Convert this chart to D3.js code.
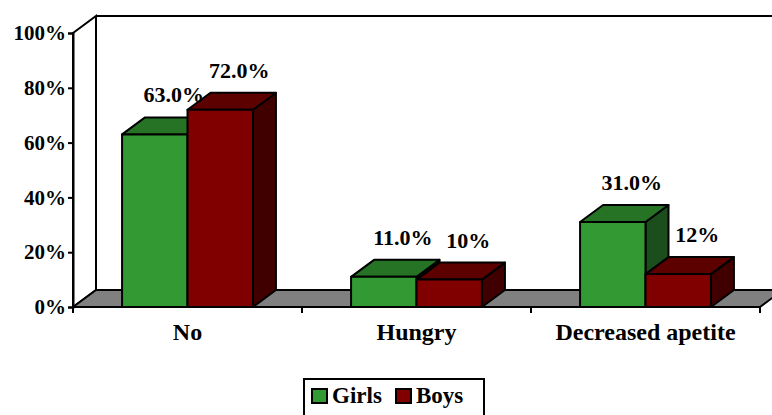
<!DOCTYPE html>
<html>
<head>
<meta charset="utf-8">
<script src="https://cdn.jsdelivr.net/npm/d3@7"></script>
<style>
  body { margin: 0; background: #fff; }
</style>
</head>
<body>
<div id="chart"></div>
<script>
const categories = ['No', 'Hungry', 'Decreased apetite']
const seriesNames = ['Girls', 'Boys']
const girls = [63, 11, 31]
const boys = [72, 10, 12]
const valueLabels = [['63.0%', '72.0%'], ['11.0%', '10%'], ['31.0%', '12%']]
const yTicks = [0, 20, 40, 60, 80, 100]

const colors = {
  Girls: { front: '#339933', top: '#267326', side: '#1c4d1c' },
  Boys: { front: '#800000', top: '#5c0000', side: '#400000' }
}

const FONT = '"Times New Roman", Times, "Liberation Serif", "DejaVu Serif", serif'
const width = 772, height = 415
const depth = { dx: 23, dy: -17 }

const svg = d3.select('#chart').append('svg')
  .attr('width', width)
  .attr('height', height)
  .style('font-family', FONT)
  .style('font-weight', 'bold')

const x0 = d3.scaleBand()
  .domain(categories)
  .range([73, 760])
  .padding(0)

const x1 = d3.scaleBand()
  .domain(seriesNames)
  .range([0, x0.bandwidth()])
  .paddingInner(0)
  .paddingOuter(0.75)

const y = d3.scaleLinear()
  .domain([0, 100])
  .range([307, 33])

const y0 = y(0), yTop = y(100)
const xL = x0.range()[0], xR = x0.range()[1]

const line = d3.line()

// back wall
svg.append('path')
  .attr('d', line([[xL + depth.dx, yTop + depth.dy], [width + 10, yTop + depth.dy], [width + 10, y0 + depth.dy], [xL + depth.dx, y0 + depth.dy]]))
  .attr('fill', '#fff')
  .attr('stroke', '#000')
  .attr('stroke-width', 2)

// left side wall
svg.append('path')
  .attr('d', line([[xL, yTop], [xL + depth.dx, yTop + depth.dy], [xL + depth.dx, y0 + depth.dy], [xL, y0]]) + 'Z')
  .attr('fill', '#fff')
  .attr('stroke', '#000')
  .attr('stroke-width', 2)

// floor
svg.append('path')
  .attr('d', line([[xL, y0], [xR, y0], [xR + depth.dx, y0 + depth.dy], [xL + depth.dx, y0 + depth.dy]]) + 'Z')
  .attr('fill', '#808080')
  .attr('stroke', '#000')
  .attr('stroke-width', 2)
  .attr('stroke-linejoin', 'round')

// y axis
const yAxis = svg.append('g')
  .attr('transform', `translate(${xL},0)`)
  .call(d3.axisLeft(y).tickValues(yTicks).tickFormat(d => d + '%').tickSize(5).tickPadding(2))
yAxis.attr('font-family', null).attr('font-size', 21)
yAxis.select('.domain').attr('stroke-width', 2)
yAxis.selectAll('.tick line').attr('stroke-width', 2)
yAxis.selectAll('.tick text').attr('fill', '#000')

// x axis ticks at category boundaries
const boundaries = categories.map(c => x0(c)).concat([xR])
svg.append('g').selectAll('line')
  .data(boundaries)
  .join('line')
  .attr('x1', d => d).attr('x2', d => d)
  .attr('y1', y0).attr('y2', y0 + 6)
  .attr('stroke', '#000')
  .attr('stroke-width', 2)

svg.append('line')
  .attr('x1', xL).attr('x2', xR)
  .attr('y1', y0).attr('y2', y0)
  .attr('stroke', '#000')
  .attr('stroke-width', 2)

// bars
const bars = []
categories.forEach((c, i) => {
  seriesNames.forEach((s, j) => {
    bars.push({ cat: c, series: s, value: s === 'Girls' ? girls[i] : boys[i], label: valueLabels[i][j] })
  })
})

const bar = svg.append('g').selectAll('g')
  .data(bars)
  .join('g')

bar.each(function (d) {
  const g = d3.select(this)
  const xa = x0(d.cat) + x1(d.series)
  const xb = xa + x1.bandwidth()
  const yt = y(d.value)
  const c = colors[d.series]
  const draw = (pts, fill) => g.append('path')
    .attr('d', line(pts) + 'Z')
    .attr('fill', fill)
    .attr('stroke', '#000')
    .attr('stroke-width', 2)
    .attr('stroke-linejoin', 'round')
  draw([[xb, yt], [xb + depth.dx, yt + depth.dy], [xb + depth.dx, y0 + depth.dy], [xb, y0]], c.side)
  draw([[xa, yt], [xa + depth.dx, yt + depth.dy], [xb + depth.dx, yt + depth.dy], [xb, yt]], c.top)
  draw([[xa, yt], [xb, yt], [xb, y0], [xa, y0]], c.front)
})

// value labels
svg.append('g').selectAll('text')
  .data(bars)
  .join('text')
  .attr('x', d => x0(d.cat) + x1(d.series) + x1.bandwidth() / 2 + 19)
  .attr('y', d => y(d.value) + depth.dy - 15)
  .attr('text-anchor', 'middle')
  .attr('font-size', 22)
  .text(d => d.label)

// category labels
svg.append('g').selectAll('text')
  .data(categories)
  .join('text')
  .attr('x', d => x0(d) + x0.bandwidth() / 2)
  .attr('y', 340)
  .attr('text-anchor', 'middle')
  .attr('font-size', 24)
  .text(d => d)

// legend
const legend = svg.append('g')
legend.append('rect')
  .attr('x', 304).attr('y', 379)
  .attr('width', 180).attr('height', 40)
  .attr('fill', '#fff')
  .attr('stroke', '#000')
  .attr('stroke-width', 2)

const legendX = [312, 396]
const item = legend.selectAll('g.item')
  .data(seriesNames)
  .join('g')
  .attr('class', 'item')
  .attr('transform', (d, i) => `translate(${legendX[i]},389)`)
item.append('rect')
  .attr('width', 15).attr('height', 14)
  .attr('fill', d => colors[d].front)
  .attr('stroke', '#000')
  .attr('stroke-width', 2)
item.append('text')
  .attr('x', 20).attr('y', 14)
  .attr('font-size', 23)
  .text(d => d)
</script>
</body>
</html>
